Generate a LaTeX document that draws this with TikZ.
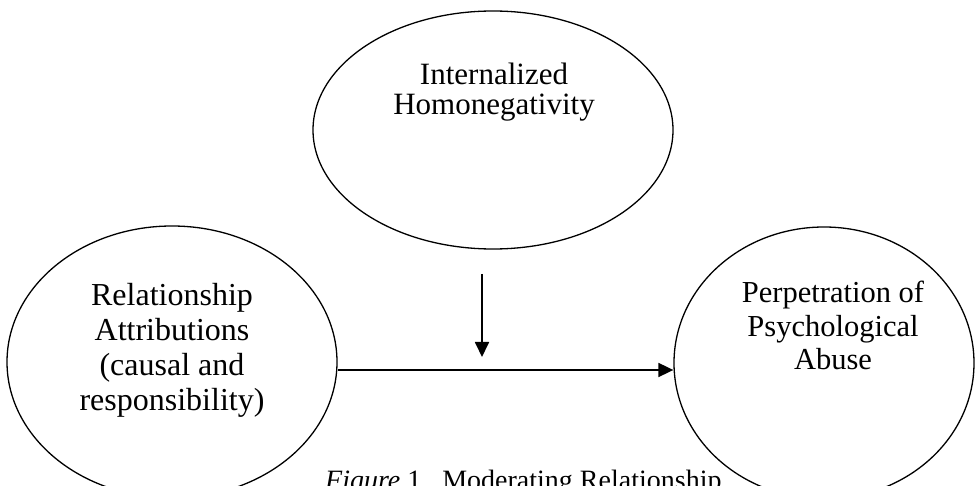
\documentclass[tikz,border=0pt]{standalone}
\usepackage{fontspec}
\setmainfont{Liberation Serif}
\usetikzlibrary{shapes.geometric, arrows.meta}

\begin{document}
\begin{tikzpicture}[x=1pt, y=-1pt,
    var/.style={draw, ellipse, line width=1.3pt, inner sep=0pt},
    lbl/.style={align=center, inner sep=0pt},
    arr/.style={line width=1.8pt, -{Triangle[length=15pt, width=14pt]}}]
    \useasboundingbox (0,0) rectangle (975,486);
    % variables
    \node[var, minimum width=360pt, minimum height=238pt] (homo) at (493, 130) {};
    \node[var, minimum width=330pt, minimum height=272pt] (attr) at (172, 362) {};
    \node[var, minimum width=300pt, minimum height=272pt] (abuse) at (824, 363) {};
    \node[lbl, font=\fontsize{31}{30}\selectfont, anchor=base] (homolbl) at (494, 115)
        {Internalized\\Homonegativity};
    \node[lbl, font=\fontsize{32}{35}\selectfont, anchor=base] (attrlbl) at (172, 410)
        {Relationship\\Attributions\\(causal and\\responsibility)};
    \node[lbl, font=\fontsize{30.5}{33.5}\selectfont, anchor=base] (abuselbl) at (833, 370)
        {Perpetration of\\Psychological\\Abuse};
    % paths
    \coordinate (modtop) at (482, 274);
    \coordinate (modend) at (482, 357);
    \draw[arr] ([yshift=-8pt]attr.east) -- ([yshift=-7pt]abuse.west);
    \draw[arr] (modtop) -- (modend);
    % caption, cut off at the bottom
    \node[font=\fontsize{28}{30}\selectfont, anchor=base west, inner sep=0pt] (caption) at (325, 489)
        {\textit{Figure} 1.\ \ Moderating Relationship};
\end{tikzpicture}
\end{document}
